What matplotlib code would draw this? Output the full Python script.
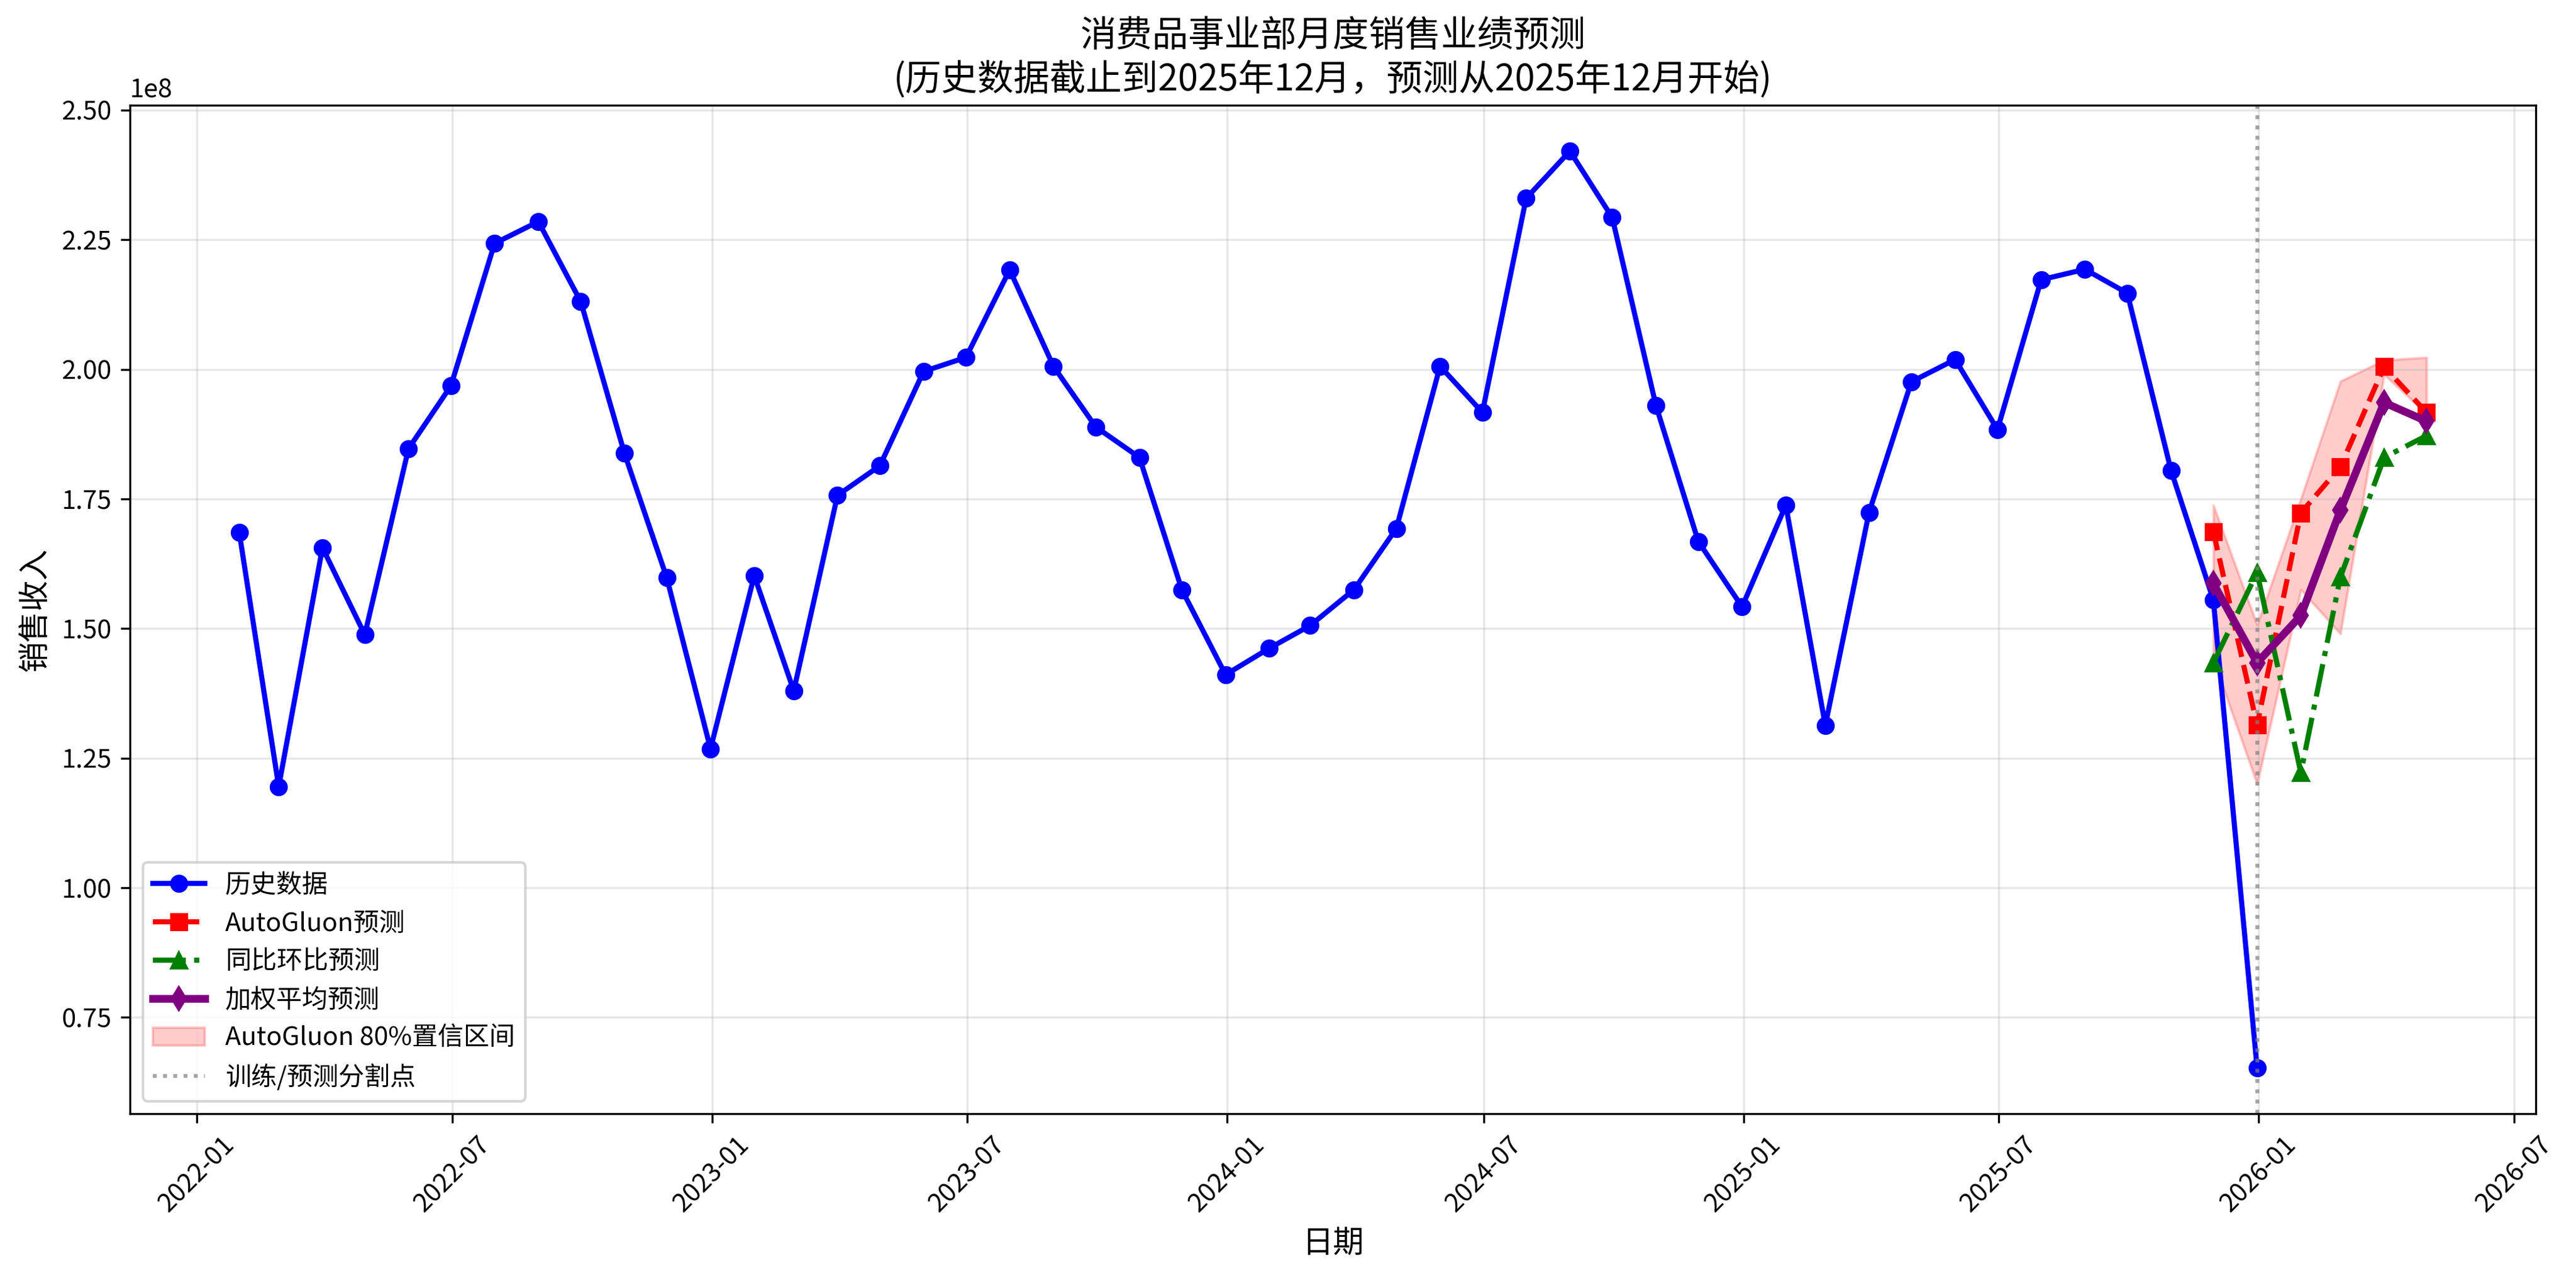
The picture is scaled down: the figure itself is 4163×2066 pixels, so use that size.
import matplotlib
matplotlib.use("Agg")
import matplotlib.pyplot as plt
import matplotlib.dates as mdates
import pandas as pd
import numpy as np

plt.rcParams['font.family'] = ['Noto Sans CJK SC', 'DejaVu Sans']
plt.rcParams['axes.unicode_minus'] = False

# ---------------- data ----------------
hist_dates = pd.date_range('2022-01-31', periods=48, freq='ME')
hist_values = [1.686, 1.195, 1.656, 1.488, 1.847, 1.968, 2.243, 2.285, 2.131, 1.838, 1.598, 1.268,
               1.602, 1.380, 1.757, 1.814, 1.996, 2.023, 2.192, 2.006, 1.889, 1.830, 1.575, 1.411,
               1.462, 1.506, 1.575, 1.693, 2.006, 1.917, 2.330, 2.421, 2.293, 1.930, 1.668, 1.542,
               1.738, 1.313, 1.724, 1.976, 2.019, 1.884, 2.173, 2.193, 2.147, 1.805, 1.555, 0.652]

fc_dates = pd.date_range('2025-11-30', periods=6, freq='ME')
autogluon_values = [1.687, 1.314, 1.723, 1.812, 2.005, 1.917]
yoy_mom_values = [1.434, 1.608, 1.222, 1.599, 1.830, 1.872]
weighted_values = [1.587, 1.434, 1.525, 1.728, 1.936, 1.900]
ag_lower = [1.440, 1.200, 1.575, 1.490, 1.990, 1.915]
ag_upper = [1.738, 1.507, 1.750, 1.977, 2.018, 2.023]

split_date = pd.Timestamp('2025-12-31')
scale = 1e8

title_text = '消费品事业部月度销售业绩预测\n(历史数据截止到2025年12月，预测从2025年12月开始)'

# ---------------- plot ----------------
fig = plt.figure(figsize=(4163 / 300, 2066 / 300), dpi=300)
ax = fig.add_subplot(111)
fig.subplots_adjust(left=0.0504, right=0.9844, top=0.9177, bottom=0.129)

ax.plot(hist_dates, np.array(hist_values) * scale, color='blue', marker='o',
        linewidth=2, markersize=6, label='历史数据')
ax.plot(fc_dates, np.array(autogluon_values) * scale, color='red', marker='s',
        linestyle='--', linewidth=2, markersize=6, label='AutoGluon预测')
ax.plot(fc_dates, np.array(yoy_mom_values) * scale, color='green', marker='^',
        linestyle='-.', linewidth=2, markersize=6, label='同比环比预测')
ax.plot(fc_dates, np.array(weighted_values) * scale, color='purple', marker='d',
        linestyle='-', linewidth=3, markersize=6, label='加权平均预测')
ax.fill_between(fc_dates, np.array(ag_lower) * scale, np.array(ag_upper) * scale,
                color='red', alpha=0.2, label='AutoGluon 80%置信区间')
ax.axvline(split_date, color='gray', linestyle=':', alpha=0.7, linewidth=1.5,
           label='训练/预测分割点')

ax.set_title(title_text, fontsize=14)
ax.set_xlabel('日期', fontsize=12)
ax.set_ylabel('销售收入', fontsize=12)
ax.xaxis.set_major_locator(mdates.MonthLocator(bymonth=[1, 7]))
ax.xaxis.set_major_formatter(mdates.DateFormatter('%Y-%m'))
ax.tick_params(axis='both', labelsize=10)
plt.setp(ax.get_xticklabels(), rotation=45)
ax.grid(True, alpha=0.3)
ax.legend(loc='lower left', fontsize=10)

fig.savefig('out.png', dpi=300)
